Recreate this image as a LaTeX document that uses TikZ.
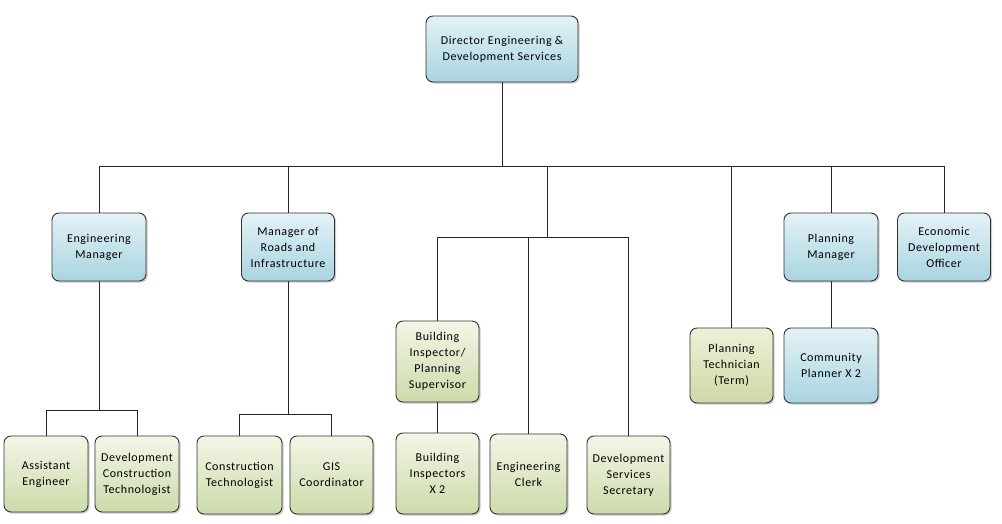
\documentclass[tikz,border=0pt]{standalone}
\usepackage{fontspec}
\setmainfont{Carlito}[LetterSpace=5]
\usepackage{tikz}
\usetikzlibrary{shadows,calc}
\definecolor{bluetop}{HTML}{E4F2F6}
\definecolor{bluebot}{HTML}{A8D4E0}
\definecolor{greentop}{HTML}{F2F6E6}
\definecolor{greenbot}{HTML}{CCDBAA}
\definecolor{olivetop}{HTML}{EEF1D8}
\definecolor{olivebot}{HTML}{CFD8A6}
\tikzset{
  orgbox/.style={
    rectangle, rounded corners=7pt, draw=black!80, line width=0.9pt,
    align=center, inner sep=2pt,
    font=\fontsize{12}{16}\selectfont,
    drop shadow={shadow xshift=1.6pt, shadow yshift=-1.6pt, opacity=0.35, fill=black!60}
  },
  bluebox/.style={orgbox, top color=bluetop, bottom color=bluebot},
  greenbox/.style={orgbox, top color=greentop, bottom color=greenbot},
  olivebox/.style={orgbox, top color=olivetop, bottom color=olivebot},
  orgline/.style={draw=black!85, line width=0.9pt}
}

\begin{document}
\begin{tikzpicture}[x=1pt, y=-1pt]
\useasboundingbox (0,0) rectangle (1002,524);

% Top
\node[bluebox, minimum width=152pt, minimum height=66pt] (dir) at (502,49) {Director Engineering \&\\Development Services};

% Managers
\node[bluebox, minimum width=94pt, minimum height=68pt] (engmgr) at (99,247) {Engineering\\Manager};
\node[bluebox, minimum width=93pt, minimum height=68pt] (roadsmgr) at (288,247) {Manager of\\Roads and\\Infrastructure};
\node[bluebox, minimum width=94pt, minimum height=68pt] (planmgr) at (831,247) {Planning\\Manager};
\node[bluebox, minimum width=93pt, minimum height=68pt] (ecodev) at (944,247) {Economic\\Development\\Officer};

% Middle level
\node[greenbox, minimum width=83pt, minimum height=81pt] (bldgsup) at (437.5,361.5) {Building\\Inspector/\\Planning\\Supervisor};
\node[olivebox, minimum width=83pt, minimum height=75pt] (plantech) at (731.5,365.5) {Planning\\Technician\\(Term)};
\node[bluebox, minimum width=94pt, minimum height=75pt] (commplan) at (831,365.5) {Community\\Planner X 2};

% Bottom row
\node[greenbox, minimum width=84pt, minimum height=76pt] (asseng) at (46,474) {Assistant\\Engineer};
\node[greenbox, minimum width=84pt, minimum height=76pt] (devcon) at (137,474) {Development\\Construction\\Technologist};
\node[greenbox, minimum width=85pt, minimum height=78pt] (contech) at (239.5,475) {Construction\\Technologist};
\node[greenbox, minimum width=83pt, minimum height=78pt] (gis) at (331.5,475) {GIS\\Coordinator};
\node[greenbox, minimum width=83pt, minimum height=81pt] (bldginsp) at (437.5,473.5) {Building\\Inspectors\\X 2};
\node[greenbox, minimum width=77pt, minimum height=80pt] (engclerk) at (528.5,474) {Engineering\\Clerk};
\node[greenbox, minimum width=83pt, minimum height=78pt] (devsec) at (628.5,475) {Development\\Services\\Secretary};

% Bus coordinates
\coordinate (topbus) at (502,166);
\coordinate (midbus) at (547,237);
\coordinate (engbus) at (99,410);
\coordinate (roadsbus) at (288,414);

% Connectors
\draw[orgline] (dir.south) -- (topbus);
\draw[orgline] (topbus) -| (engmgr.north);
\draw[orgline] (topbus) -| (roadsmgr.north);
\draw[orgline] (topbus) -| (midbus);
\draw[orgline] (topbus) -| (plantech.north);
\draw[orgline] (topbus) -| (planmgr.north);
\draw[orgline] (topbus) -| (ecodev.north);
\draw[orgline] (midbus) -| (bldgsup.north);
\draw[orgline] (midbus) -| (engclerk.north);
\draw[orgline] (midbus) -| (devsec.north);
\draw[orgline] (bldgsup) -- (bldginsp);
\draw[orgline] (planmgr) -- (commplan);
\draw[orgline] (engmgr.south) -- (engbus);
\draw[orgline] (engbus) -| (asseng.north);
\draw[orgline] (engbus) -| (devcon.north);
\draw[orgline] (roadsmgr.south) -- (roadsbus);
\draw[orgline] (roadsbus) -| (contech.north);
\draw[orgline] (roadsbus) -| (gis.north);
\end{tikzpicture}
\end{document}
